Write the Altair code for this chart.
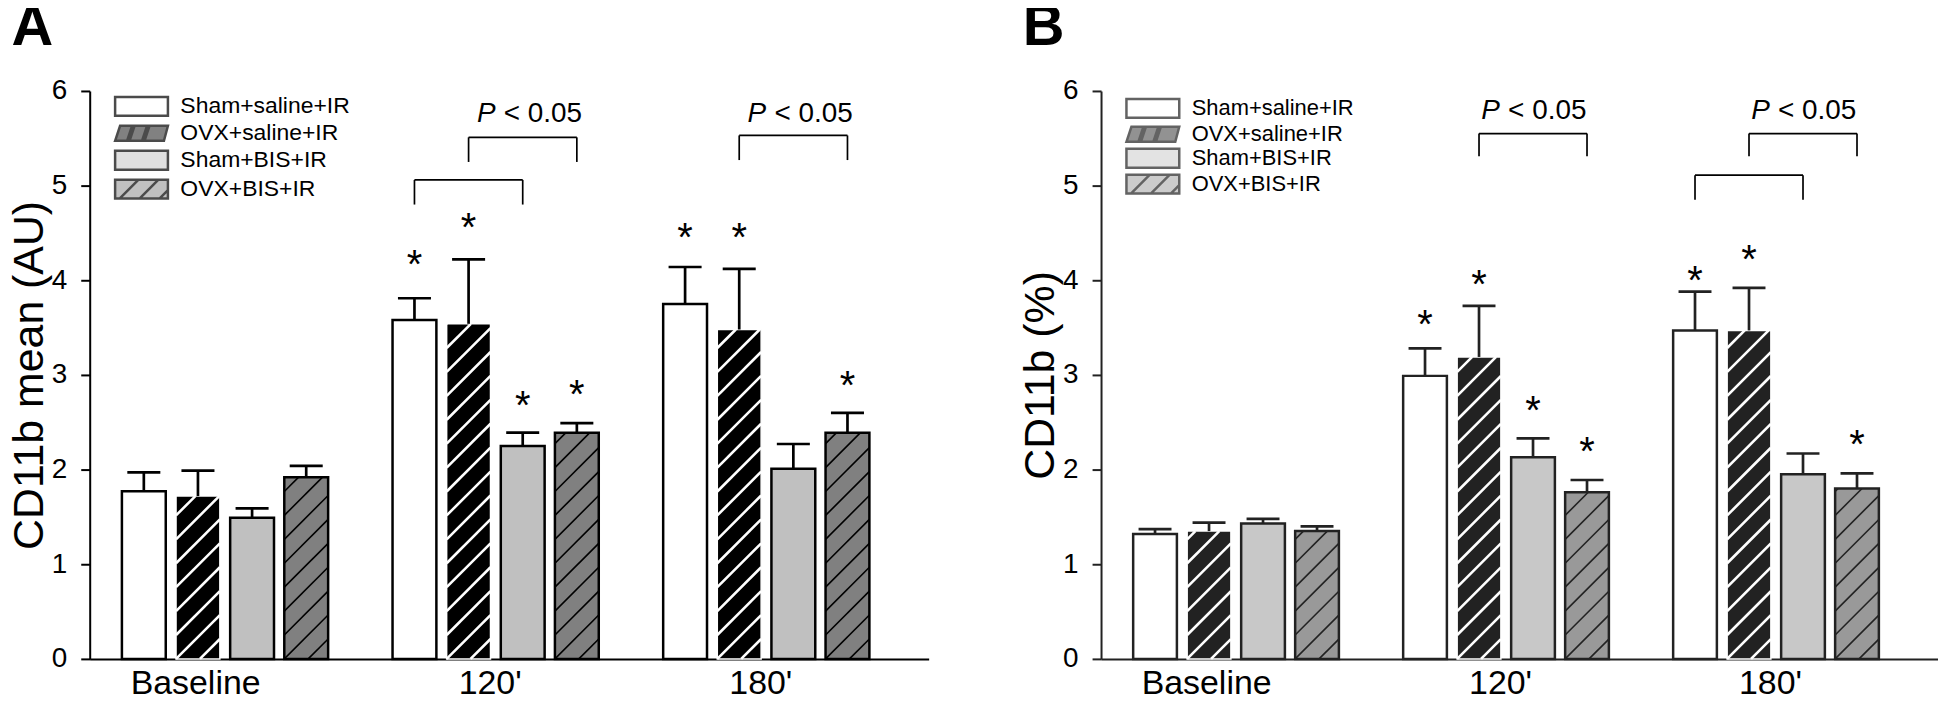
import json
import altair as alt
import numpy as np
import pandas as pd

FONT = "Liberation Sans"

GROUPS = ["Baseline", "120'", "180'"]
SERIES = ["Sham+saline+IR", "OVX+saline+IR", "Sham+BIS+IR", "OVX+BIS+IR"]

# ---------------- Panel A : CD11b mean (AU) ----------------
A_MEAN_SHAM_SALINE = [1.77, 3.58, 3.75]
A_MEAN_OVX_SALINE = [1.72, 3.54, 3.48]
A_MEAN_SHAM_BIS = [1.49, 2.25, 2.01]
A_MEAN_OVX_BIS = [1.92, 2.39, 2.39]
A_SEM_SHAM_SALINE = [0.20, 0.23, 0.39]
A_SEM_OVX_SALINE = [0.27, 0.68, 0.64]
A_SEM_SHAM_BIS = [0.10, 0.14, 0.26]
A_SEM_OVX_BIS = [0.12, 0.10, 0.21]
A_STARS = [("120'", 0, 4.27), ("120'", 1, 4.66), ("120'", 2, 2.78), ("120'", 3, 2.89),
           ("180'", 0, 4.55), ("180'", 1, 4.55), ("180'", 3, 2.99)]
A_BRACKETS = [("120'", 0, 2, 5.06, 4.80), ("120'", 1, 3, 5.51, 5.25), ("180'", 1, 3, 5.53, 5.27)]
A_PLABELS = [("120'", 1, 3, 5.78), ("180'", 1, 3, 5.78)]

# ---------------- Panel B : CD11b (%) ----------------
B_MEAN_SHAM_SALINE = [1.32, 2.99, 3.47]
B_MEAN_OVX_SALINE = [1.35, 3.19, 3.47]
B_MEAN_SHAM_BIS = [1.43, 2.13, 1.95]
B_MEAN_OVX_BIS = [1.35, 1.76, 1.80]
B_SEM_SHAM_SALINE = [0.05, 0.29, 0.41]
B_SEM_OVX_SALINE = [0.09, 0.54, 0.45]
B_SEM_SHAM_BIS = [0.05, 0.20, 0.22]
B_SEM_OVX_BIS = [0.05, 0.13, 0.16]
B_STARS = [("120'", 0, 3.63), ("120'", 1, 4.06), ("120'", 2, 2.72), ("120'", 3, 2.29),
           ("180'", 0, 4.10), ("180'", 1, 4.32), ("180'", 3, 2.36)]
B_BRACKETS = [("120'", 1, 3, 5.55, 5.31), ("180'", 1, 3, 5.55, 5.31), ("180'", 0, 2, 5.11, 4.85)]
B_PLABELS = [("120'", 1, 3, 5.81), ("180'", 1, 3, 5.81)]

Y_TICKS = [0, 1, 2, 3, 4, 5, 6]

# ---------------- layout / style constants ----------------
XMIN, XMAX = -0.5, 2.6
BAR_STEP = 0.2
BAR_W = 0.162
CAP_W = 0.122
H = 570
HATCH_PX = 24

SYM_PX = 20          # nominal legend symbol size (px); the paths are drawn wider than it


def sym_path(polys, lines=()):
    """Build a legend symbol path from pixel coordinates (centre = 0,0)."""
    k = 2.0 / SYM_PX
    out = ""
    for poly in polys:
        out += "M" + "L".join(f"{x * k:.3f},{y * k:.3f}" for x, y in poly) + "Z"
    for (x1, y1), (x2, y2) in lines:
        out += f"M{x1 * k:.3f},{y1 * k:.3f}L{x2 * k:.3f},{y2 * k:.3f}"
    return out


SW, SH = 26.5, 9.5   # half width / half height of a legend box in px
RECT = sym_path([[(-SW, -SH), (SW, -SH), (SW, SH), (-SW, SH)]])
PARA = sym_path([
    [(-SW, 7.5), (-SW + 5, -7.5), (-SW + 17, -7.5), (-SW + 12, 7.5)],
    [(-SW + 14.5, 7.5), (-SW + 19.5, -7.5), (-SW + 32, -7.5), (-SW + 27, 7.5)],
    [(-SW + 29.5, 7.5), (-SW + 34.5, -7.5), (SW, -7.5), (SW - 4, 7.5)],
])
RECT_HATCH = sym_path([[(-SW, -SH), (SW, -SH), (SW, SH), (-SW, SH)]],
                      [((-22, SH), (-3, -SH)), ((-2, SH), (17, -SH)), ((18, SH), (SW, 1))])
SHAPES = [RECT, PARA, RECT, RECT_HATCH]


def bar_table(means, sems):
    rows = []
    for s, name in enumerate(SERIES):
        for g, grp in enumerate(GROUPS):
            xc = g + (s - 1.5) * BAR_STEP
            rows.append(dict(series=name, group=grp, mean=means[s][g],
                             top=means[s][g] + sems[s][g], xc=xc,
                             xl=xc - BAR_W / 2, xr=xc + BAR_W / 2,
                             cl=xc - CAP_W / 2, cr=xc + CAP_W / 2, zero=0.0))
    return pd.DataFrame(rows)


def hatch_table(bars, width):
    px_x = width / (XMAX - XMIN)
    px_y = H / 6
    m = px_x / px_y
    sy = HATCH_PX / px_y
    rows = []
    for _, b in bars.iterrows():
        if b["series"] not in (SERIES[1], SERIES[3]):
            continue
        w = b["xr"] - b["xl"]
        v = b["mean"]
        for k in range(int(np.floor(-m * w / sy)), int(np.ceil(v / sy)) + 1):
            c = k * sy
            xa = max(b["xl"], b["xl"] - c / m)
            xb = min(b["xr"], b["xl"] + (v - c) / m)
            if xb - xa > 1e-6:
                rows.append(dict(series=b["series"], x1=xa, x2=xb,
                                 y1=c + m * (xa - b["xl"]), y2=c + m * (xb - b["xl"])))
    return pd.DataFrame(rows)


def center(grp, s):
    return GROUPS.index(grp) + (s - 1.5) * BAR_STEP


def panel(means, sems, stars, brackets, plabels, ytitle, letter, width,
          fills, outline, hatch_cols, legend_strokes, row_pad, leg_y, leg_font, p_shift):
    bars = bar_table(means, sems)
    hatch = hatch_table(bars, width)
    star_df = pd.DataFrame([dict(x=center(g, s), y=y) for g, s, y in stars])
    br_rows = []
    for g, i, j, top, bot in brackets:
        xi, xj = center(g, i), center(g, j)
        br_rows += [dict(x1=xi, x2=xj, y1=top, y2=top),
                    dict(x1=xi, x2=xi, y1=bot, y2=top),
                    dict(x1=xj, x2=xj, y1=bot, y2=top)]
    br_df = pd.DataFrame(br_rows)
    p_df = pd.DataFrame([dict(x=(center(g, i) + center(g, j)) / 2, y=y) for g, i, j, y in plabels])
    leg_df = pd.DataFrame(dict(series=SERIES, lx=[-0.3] * 4, ly=[0.5] * 4))

    xs = alt.Scale(domain=[XMIN, XMAX], nice=False, zero=False)
    ys = alt.Scale(domain=[0, 6], nice=False, zero=False)
    label_expr = json.dumps(GROUPS) + "[datum.value]"
    xaxis = alt.Axis(values=[0, 1, 2], labelExpr=label_expr, ticks=False, grid=False,
                     title=None, labelFont=FONT, labelFontSize=34, labelColor="black",
                     labelPadding=8, labelFlush=False, domainColor=outline, domainWidth=2,
                     labelOffset={"condition": {"test": "datum.value == 0", "value": -30},
                                  "value": -6})
    yaxis = alt.Axis(values=Y_TICKS, grid=False, title=ytitle, titleFont=FONT,
                     titleFontSize=43, titleFontWeight="normal", titleColor="black",
                     titlePadding=0, labelFont=FONT, labelFontSize=28, labelColor="black",
                     labelPadding=14, tickSize=9, tickWidth=2, tickColor=outline,
                     domainColor=outline, domainWidth=2)
    X = lambda f: alt.X(f, scale=xs, axis=xaxis)
    Y = lambda f: alt.Y(f, scale=ys, axis=yaxis)

    fill_scale = alt.Scale(domain=SERIES, range=fills)
    extra = SW - SYM_PX / 2
    leg = alt.Legend(title=None, orient="none", legendX=24 + extra, legendY=leg_y,
                     direction="vertical", padding=0, labelFont=FONT, labelFontSize=leg_font,
                     labelColor="black", labelOffset=11 + extra,
                     symbolSize=SYM_PX ** 2, symbolStrokeWidth=2.5,
                     rowPadding=row_pad, labelLimit=0)

    legend_pts = alt.Chart(leg_df).mark_point(filled=True, size=0).encode(
        x=X("lx:Q"), y=Y("ly:Q"),
        fill=alt.Fill("series:N", scale=fill_scale, legend=leg),
        stroke=alt.Stroke("series:N", scale=alt.Scale(domain=SERIES, range=legend_strokes), legend=leg),
        shape=alt.Shape("series:N", scale=alt.Scale(domain=SERIES, range=SHAPES), legend=leg),
    )
    base_bars = alt.Chart(bars)
    bar_fill = base_bars.mark_rect(strokeWidth=0).encode(
        x=X("xl:Q"), x2="xr:Q", y=Y("mean:Q"), y2="zero:Q",
        fill=alt.Fill("series:N", scale=fill_scale, legend=None),
    )
    hatch_w = alt.Chart(hatch).transform_filter(alt.datum.series == SERIES[1]).mark_rule(
        color=hatch_cols[0], strokeWidth=2.6).encode(
        x=X("x1:Q"), x2="x2:Q", y=Y("y1:Q"), y2="y2:Q")
    hatch_k = alt.Chart(hatch).transform_filter(alt.datum.series == SERIES[3]).mark_rule(
        color=hatch_cols[1], strokeWidth=1.6).encode(
        x=X("x1:Q"), x2="x2:Q", y=Y("y1:Q"), y2="y2:Q")
    outline_dark = base_bars.transform_filter(alt.datum.series != SERIES[1]).mark_rect(
        fillOpacity=0, stroke=outline, strokeWidth=2.5).encode(
        x=X("xl:Q"), x2="xr:Q", y=Y("mean:Q"), y2="zero:Q")
    outline_light = base_bars.transform_filter(alt.datum.series == SERIES[1]).mark_rect(
        fillOpacity=0, stroke="white", strokeWidth=1.5).encode(
        x=X("xl:Q"), x2="xr:Q", y=Y("mean:Q"), y2="zero:Q")
    err_line = base_bars.mark_rule(color=outline, strokeWidth=2.7).encode(
        x=X("xc:Q"), y=Y("mean:Q"), y2="top:Q")
    err_cap = base_bars.mark_rule(color=outline, strokeWidth=2.7).encode(
        x=X("cl:Q"), x2="cr:Q", y=Y("top:Q"))
    star_txt = alt.Chart(star_df).mark_text(text="*", font=FONT, fontSize=40, color="black",
                                            baseline="alphabetic", dy=23).encode(
        x=X("x:Q"), y=Y("y:Q"))
    br = alt.Chart(br_df).mark_rule(color="black", strokeWidth=1.7).encode(
        x=X("x1:Q"), x2="x2:Q", y=Y("y1:Q"), y2="y2:Q")
    p_it = alt.Chart(p_df).mark_text(text="P", font=FONT, fontSize=28, fontStyle="italic",
                                     color="black", align="left", baseline="alphabetic",
                                     dx=-52 + p_shift, dy=10).encode(
        x=X("x:Q"), y=Y("y:Q"))
    p_rest = alt.Chart(p_df).mark_text(text="< 0.05", font=FONT, fontSize=28, color="black",
                                       align="left", baseline="alphabetic",
                                       dx=-25 + p_shift, dy=10).encode(
        x=X("x:Q"), y=Y("y:Q"))

    return alt.layer(legend_pts, bar_fill, hatch_w, hatch_k, outline_dark, outline_light,
                     err_line, err_cap, star_txt, br, p_it, p_rest).properties(
        width=width, height=H,
        title=alt.TitleParams(text=letter, anchor="start", frame="bounds", fontSize=58,
                              fontWeight="bold", font=FONT, color="black", offset=9,
                              dy=-11, dx=3),
    )


A = panel(
    [A_MEAN_SHAM_SALINE, A_MEAN_OVX_SALINE, A_MEAN_SHAM_BIS, A_MEAN_OVX_BIS],
    [A_SEM_SHAM_SALINE, A_SEM_OVX_SALINE, A_SEM_SHAM_BIS, A_SEM_OVX_BIS],
    A_STARS, A_BRACKETS, A_PLABELS, "CD11b mean (AU)", "A", 842,
    fills=["#ffffff", "#000000", "#c0c0c0", "#808080"], outline="#000000",
    hatch_cols=["#ffffff", "#000000"],
    legend_strokes=["#000000", "#000000", "#000000", "#000000"],
    row_pad=0, leg_y=4, leg_font=23, p_shift=6)

B = panel(
    [B_MEAN_SHAM_SALINE, B_MEAN_OVX_SALINE, B_MEAN_SHAM_BIS, B_MEAN_OVX_BIS],
    [B_SEM_SHAM_SALINE, B_SEM_OVX_SALINE, B_SEM_SHAM_BIS, B_SEM_OVX_BIS],
    B_STARS, B_BRACKETS, B_PLABELS, "CD11b (%)", "B", 840,
    fills=["#ffffff", "#222222", "#c8c8c8", "#999999"], outline="#222222",
    hatch_cols=["#ffffff", "#222222"],
    legend_strokes=["#222222", "#222222", "#222222", "#222222"],
    row_pad=-4, leg_y=6, leg_font=22, p_shift=0)

chart = (alt.hconcat(A, B, spacing=91)
         .resolve_scale(fill="independent", stroke="independent", shape="independent")
         .resolve_legend(fill="independent", stroke="independent", shape="independent")
         .properties(padding={"top": -10, "left": 0, "right": 0, "bottom": 0})
         .configure_view(stroke=None))

chart.save("out.html", embed_options={"renderer": "svg", "actions": False})
